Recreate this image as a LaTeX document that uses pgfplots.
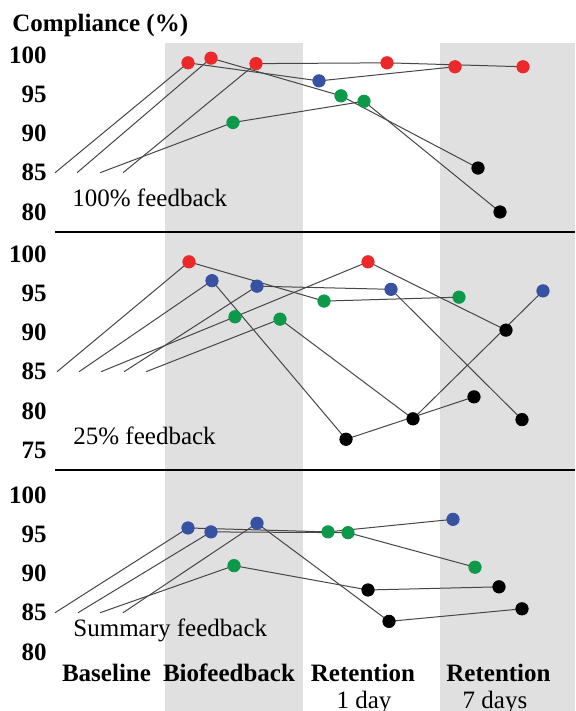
\documentclass[border=0pt]{standalone}
\usepackage{fontspec}
\setmainfont{Liberation Serif}
\usepackage{pgfplots}
\usepackage{pgfplotstable}
\pgfplotsset{compat=1.18}
\definecolor{cR}{RGB}{237,40,43}
\definecolor{cB}{RGB}{55,82,163}
\definecolor{cG}{RGB}{12,154,74}
\definecolor{cShade}{RGB}{224,224,224}
\definecolor{ln}{RGB}{70,70,70}
\newcommand{\fs}{\fontsize{12.5pt}{15pt}\selectfont}

% Panel 1: 100% feedback
\pgfplotstableread{
x y c
55 85 n
188 99.0 r
319 96.7 b
455 98.5 r
}\pOneA
\pgfplotstableread{
x y c
77 85 n
211 99.6 r
341 94.8 g
478 85.6 k
}\pOneB
\pgfplotstableread{
x y c
123 85 n
256 98.9 r
387 99.0 r
523 98.5 r
}\pOneC
\pgfplotstableread{
x y c
100 85 n
233 91.4 g
364 94.1 g
500 80.0 k
}\pOneD
% Panel 2: 25% feedback
\pgfplotstableread{
x y c
57 85 n
189 99.0 r
324 94.0 g
459 94.5 g
}\pTwoA
\pgfplotstableread{
x y c
79 85 n
212 96.6 b
346 76.4 k
474 81.8 k
}\pTwoB
\pgfplotstableread{
x y c
101 85 n
235 92.0 g
368 99.0 r
506 90.3 k
}\pTwoC
\pgfplotstableread{
x y c
124 85 n
257 95.9 b
391 95.5 b
522 78.9 k
}\pTwoD
\pgfplotstableread{
x y c
146 85 n
280 91.7 g
413 79.0 k
543 95.3 b
}\pTwoE
% Panel 3: Summary feedback
\pgfplotstableread{
x y c
55 85 n
188 95.8 b
328 95.3 g
453 96.9 b
}\pThrA
\pgfplotstableread{
x y c
78 85 n
211 95.3 b
348 95.2 g
475 90.8 g
}\pThrB
\pgfplotstableread{
x y c
123 85 n
257 96.4 b
389 83.9 k
522 85.5 k
}\pThrC
\pgfplotstableread{
x y c
100 85 n
234 91.0 g
368 87.9 k
499 88.3 k
}\pThrD

\newcommand{\lineof}[1]{\addplot[ln, line width=0.5pt, mark=none] table[x=x,y=y]{#1};}
\newcommand{\marksof}[1]{\addplot[scatter, only marks, scatter src=explicit symbolic,
  scatter/classes={r={mark=*,cR}, b={mark=*,cB}, g={mark=*,cG}, k={mark=*,black}, n={mark=none}},
  mark size=3.1pt, skip coords between index={0}{1}] table[x=x,y=y,meta=c]{#1};}

\pgfplotsset{panel/.style={
  anchor=south west, x=0.5pt, y=3.925pt, xmin=0, xmax=575, clip=false,
  axis line style={draw=none}, xtick=\empty, major tick length=0pt,
  /pgf/number format/assume math mode=true,
  yticklabel style={font=\bfseries\fs, anchor=east, xshift=23.5pt, inner sep=0pt},
}}

\begin{document}
\begin{tikzpicture}
\useasboundingbox (0,0) rectangle (287.5pt,355.5pt);
\begin{scope}[yshift=355.5pt, x=0.5pt, y=-0.5pt]
  \fill[cShade] (165,43) rectangle (303,711);
  \fill[cShade] (440,43) rectangle (575,711);
  \draw[line width=1pt] (55,232) -- (575,232);
  \draw[line width=1pt] (55,470) -- (575,470);
  \node[anchor=base west, inner sep=0pt, font=\bfseries\fs] at (12,32) {Compliance (\%)};
  \node[anchor=base west, inner sep=0pt, font=\fs] at (72,207) {100\% feedback};
  \node[anchor=base west, inner sep=0pt, font=\fs] at (73,445) {25\% feedback};
  \node[anchor=base west, inner sep=0pt, font=\fs] at (73,637) {Summary feedback};
  \node[anchor=base, inner sep=0pt, font=\bfseries\fs] at (106.5,682) {Baseline};
  \node[anchor=base, inner sep=0pt, font=\bfseries\fs] at (229,682) {Biofeedback};
  \node[anchor=base, inner sep=0pt, font=\bfseries\fs] at (363,682) {Retention};
  \node[anchor=base, inner sep=0pt, font=\fs] at (364,708) {1 day};
  \node[anchor=base, inner sep=0pt, font=\bfseries\fs] at (498.5,682) {Retention};
  \node[anchor=base, inner sep=0pt, font=\fs] at (495,708) {7 days};
\end{scope}

\begin{axis}[panel, at={(0pt,239.5pt)}, ymin=77.452, ymax=101.529, ytick={80,85,90,95,100}]
  \lineof{\pOneA}\lineof{\pOneB}\lineof{\pOneC}\lineof{\pOneD}
  \marksof{\pOneA}\marksof{\pOneB}\marksof{\pOneC}\marksof{\pOneD}
\end{axis}

\begin{axis}[panel, at={(0pt,120.5pt)}, ymin=72.484, ymax=102.803, ytick={75,80,85,90,95,100}]
  \lineof{\pTwoA}\lineof{\pTwoB}\lineof{\pTwoC}\lineof{\pTwoD}\lineof{\pTwoE}
  \marksof{\pTwoA}\marksof{\pTwoB}\marksof{\pTwoC}\marksof{\pTwoD}\marksof{\pTwoE}
\end{axis}

\begin{axis}[panel, at={(0pt,25.5pt)}, ymin=78.981, ymax=103.185, ytick={80,85,90,95,100}]
  \lineof{\pThrA}\lineof{\pThrB}\lineof{\pThrC}\lineof{\pThrD}
  \marksof{\pThrA}\marksof{\pThrB}\marksof{\pThrC}\marksof{\pThrD}
\end{axis}
\end{tikzpicture}
\end{document}
